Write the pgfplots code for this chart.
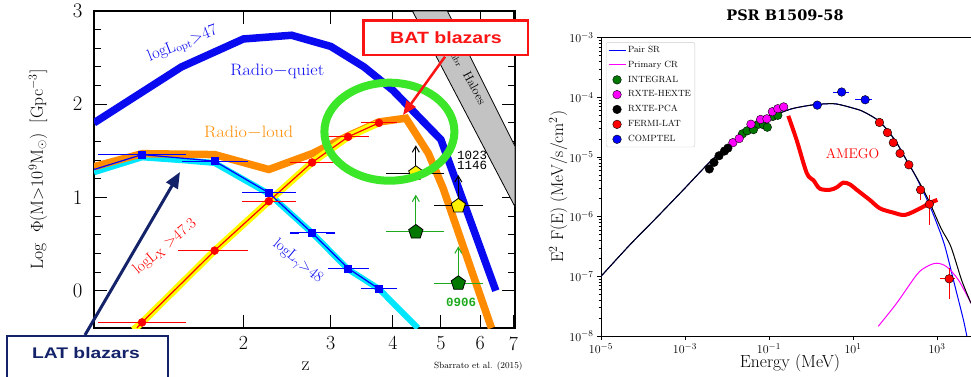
\documentclass[border=0pt]{standalone}
\usepackage{pgfplots}
\pgfplotsset{compat=1.18}
\usepackage{fontspec}
\newfontfamily\boxfont{Liberation Sans}
\newfontfamily\monofont{Liberation Mono}
\newfontfamily\titlefont{DejaVu Serif}
\usetikzlibrary{arrows.meta}
\definecolor{qblue}{RGB}{10,10,240}
\definecolor{rlorange}{RGB}{255,140,0}
\definecolor{gcyan}{RGB}{0,230,255}
\definecolor{xyellow}{RGB}{255,255,0}
\definecolor{dgreen}{RGB}{0,120,0}
\definecolor{lgreen}{RGB}{30,170,30}
\definecolor{ellgreen}{RGB}{60,230,40}
\definecolor{navy}{RGB}{20,35,105}
\definecolor{batred}{RGB}{250,20,20}
\definecolor{bandgray}{RGB}{195,195,195}
\definecolor{mag}{RGB}{255,0,255}
\definecolor{pblue}{RGB}{0,0,255}
\definecolor{pred}{RGB}{255,0,0}
\begin{document}
\begin{tikzpicture}[x=1pt,y=1pt]
\useasboundingbox (0,0) rectangle (971,376);
% ================= LEFT PANEL =================
\begin{axis}[
  at={(94pt,48pt)}, anchor=south west, scale only axis,
  width=421pt, height=317pt,
  xmode=log, xmin=1, xmax=7.05, ymin=-0.4, ymax=3,
  xtick={2,3,4,5,6,7}, xticklabels={2,3,4,5,6,7}, xminorticks=false,
  ytick={0,1,2,3}, minor y tick num=4,
  tick align=inside, major tick length=13pt, minor tick length=7pt,
  tick style={black, line width=1pt},
  axis line style={line width=1.3pt},
  tick label style={font=\fontsize{20}{20}\selectfont},
  xticklabel style={yshift=-5pt},
  yticklabel style={xshift=-8pt},
  xlabel={z},
  xlabel style={font=\fontsize{20}{20}\selectfont, at={(axis description cs:0.503,-0.12)}, anchor=center},
  ylabel={Log\ \ $\Phi$(M$>$10$^9$M$_\odot$)\ \ [Gpc$^{-3}$]},
  ylabel style={font=\fontsize{17.5}{17.5}\selectfont, at={(axis description cs:-0.133,0.5)}, anchor=center},
  clip mode=individual,
]
% haloes band
\addplot[fill=bandgray, draw=black, line width=0.8pt] coordinates {(4.38,3) (5.15,3) (7.05,1.55) (7.05,0.90)} -- cycle;
\node[rotate=-62, font=\fontsize{12.5}{12.5}\selectfont] at (axis cs:5.62,2.33) {M$_{\rm hbr}$\ \ Haloes};
% radio quiet
\addplot[qblue, line width=7.5pt] coordinates {(1.0,1.80) (1.5,2.40) (2.0,2.70) (2.5,2.74) (3.0,2.62) (3.5,2.40) (4.0,2.15) (5.0,1.62) (6.45,0.0)};
% cyan gamma
\addplot[gcyan, line width=6pt] coordinates {(1.0,1.27) (1.25,1.43) (1.5,1.40) (1.75,1.37) (2.25,1.04) (2.75,0.62) (3.25,0.23) (3.75,0.02) (4.49,-0.4)};
% orange radio loud
\addplot[rlorange, line width=7.5pt] coordinates {(1.0,1.33) (1.25,1.47) (1.75,1.46) (2.25,1.30) (2.75,1.47) (3.25,1.66) (3.75,1.81) (4.25,1.85) (4.72,1.47) (5.05,1.10) (6.32,-0.4)};
% yellow X
\addplot[xyellow, line width=7pt] coordinates {(1.2,-0.42) (1.25,-0.34) (1.75,0.43) (2.25,0.96) (2.75,1.375) (3.25,1.65) (3.75,1.80)};
% red thin line
\addplot[red, line width=1.2pt] coordinates {(1.22,-0.4) (1.25,-0.34) (1.75,0.43) (2.25,0.96) (2.75,1.375) (3.25,1.65) (3.75,1.80)};
% blue thin line
\addplot[blue, line width=1.2pt] coordinates {(1.0,1.30) (1.25,1.46) (1.75,1.39) (2.25,1.05) (2.75,0.62) (3.25,0.24) (3.75,0.02)};
% red points with errors
\addplot[red, only marks, mark=*, mark size=4pt, error bars/.cd, x dir=both, x explicit,
  error bar style={line width=1pt}, error mark options={mark size=4.5pt, line width=1.2pt}]
  coordinates {(1.25,-0.34) += (0.25,0) -= (0.21,0)
               (1.75,0.43) += (0.25,0) -= (0.24,0)
               (2.25,0.96) += (0.25,0) -= (0.22,0)
               (2.75,1.375) += (0.25,0) -= (0.22,0)
               (3.25,1.65) += (0.25,0) -= (0.22,0)
               (3.75,1.80) += (0.25,0) -= (0.22,0)};
% blue squares with errors
\addplot[blue, only marks, mark=square*, mark size=3.5pt, error bars/.cd, x dir=both, x explicit,
  error bar style={line width=1pt}, error mark options={mark size=4.5pt, line width=1.2pt}]
  coordinates {(1.25,1.46) += (0.25,0) -= (0.21,0)
               (1.75,1.39) += (0.25,0) -= (0.215,0)
               (2.25,1.05) += (0.25,0) -= (0.22,0)
               (2.75,0.62) += (0.25,0) -= (0.22,0)
               (3.25,0.24) += (0.25,0) -= (0.22,0)
               (3.75,0.02) += (0.25,0) -= (0.22,0)};
% limits arrows
\addplot[lgreen, line width=1pt, -{Straight Barb[length=6pt,width=7pt]}] coordinates {(4.45,0.63) (4.45,1.03)};
\addplot[lgreen, line width=1pt, -{Straight Barb[length=6pt,width=7pt]}] coordinates {(5.42,0.08) (5.42,0.475)};
\addplot[black, line width=1pt, -{Straight Barb[length=6pt,width=7pt]}] coordinates {(4.45,1.26) (4.45,1.56)};
\addplot[black, line width=1pt, -{Straight Barb[length=6pt,width=7pt]}] coordinates {(5.42,0.91) (5.42,1.24)};
% pentagons
\addplot[lgreen, only marks, mark=pentagon*, mark size=7.5pt, mark options={fill=dgreen, draw=black, line width=0.8pt},
  error bars/.cd, x dir=both, x explicit, error bar style={line width=1pt, lgreen}, error mark options={mark size=5pt, line width=1pt, lgreen}]
  coordinates {(4.45,0.63) += (0.51,0) -= (0.48,0) (5.42,0.08) += (0.52,0) -= (0.46,0)};
\addplot[black, only marks, mark=pentagon*, mark size=7.5pt, mark options={fill=yellow, draw=black, line width=0.8pt},
  error bars/.cd, x dir=both, x explicit, error bar style={line width=1pt, black}, error mark options={mark size=5pt, line width=1pt, black}]
  coordinates {(4.45,1.26) += (0.51,0) -= (0.48,0) (5.42,0.91) += (0.52,0) -= (0.46,0)};
% labels
\node[qblue, rotate=21.5, font=\fontsize{16.5}{16.5}\selectfont] at (axis cs:1.51,2.64) {logL$_{\rm opt}$>47};
\node[qblue, font=\fontsize{16.5}{16.5}\selectfont, xscale=1.1] at (axis cs:2.34,2.35) {Radio$-$quiet};
\node[rlorange, font=\fontsize{16.5}{16.5}\selectfont, xscale=1.1] at (axis cs:2.05,1.70) {Radio$-$loud};
\node[red, rotate=40, font=\fontsize{15.5}{15.5}\selectfont] at (axis cs:1.39,0.47) {logL$_{\rm X}$ >47.3};
\node[qblue, rotate=-39.5, font=\fontsize{15.5}{15.5}\selectfont] at (axis cs:2.57,0.31) {logL$_\gamma$>48};
\node[black, font=\monofont\fontsize{12.5}{12.5}\selectfont, align=center] at (axis cs:5.78,1.40) {1023\\[-2pt]1146};
\node[lgreen, font=\monofont\bfseries\fontsize{12.5}{12.5}\selectfont] at (axis cs:5.49,-0.13) {0906};
\end{axis}
% annotations left
\draw[ellgreen, line width=8pt] (389.4,244.3) ellipse [x radius=65, y radius=49];
\draw[batred, line width=2.5pt, -{Triangle[length=14pt,width=11pt]}] (445,319.3) -- (403,261);
\draw[batred, line width=2.5pt, fill=white] (363.4,321) rectangle (528,355.3);
\node[batred, font=\boxfont\bfseries\fontsize{16.3}{16.3}\selectfont, xscale=1.2] at (446,338) {BAT blazars};
\draw[navy, line width=3pt, -{Triangle[length=16pt,width=13pt]}] (85,41) -- (180,204);
\draw[navy, line width=2.5pt, fill=white] (7,40) rectangle (168,-10);
\node[navy, font=\boxfont\bfseries\fontsize{15.4}{15.4}\selectfont, xscale=1.25] at (86,23) {LAT blazars};
\node[font=\fontsize{9}{9}\selectfont] at (478.3,9.3) {Sbarrato et al. (2015)};
% ================= RIGHT PANEL =================
\begin{axis}[
  at={(601pt,40pt)}, anchor=south west, scale only axis,
  width=370pt, height=298.3pt,
  xmode=log, ymode=log,
  xmin=1e-5, xmax=6457, ymin=1e-8, ymax=1e-3,
  xtick={1e-5,1e-3,1e-1,1e1,1e3}, xminorticks=false,
  ytick={1e-8,1e-7,1e-6,1e-5,1e-4,1e-3},
  tick align=outside, tick pos=left,
  major tick length=4pt, minor tick length=2.5pt,
  tick style={black, line width=0.6pt},
  tick label style={font=\fontsize{12.5}{12.5}\selectfont},
  axis line style={line width=0.8pt},
  xlabel={Energy (MeV)},
  xlabel style={font=\fontsize{17.5}{17.5}\selectfont, at={(axis description cs:0.511,-0.0895)}, anchor=center},
  ylabel={E$^2$ F(E) (MeV/s/cm$^2$)},
  ylabel style={font=\fontsize{17}{17}\selectfont, at={(axis description cs:-0.1154,0.5)}, anchor=center},
  legend style={at={(axis description cs:0.0135,0.985)}, anchor=north west, draw=black!20, rounded corners=2pt,
    font=\fontsize{9}{9}\selectfont, inner sep=1.8pt, row sep=3pt},
  legend cell align=left,
]
\addplot[pblue, line width=1pt, smooth] coordinates {
 (1e-5,1.0e-7) (4.9e-5,3.39e-7) (2.14e-4,9.77e-7) (9.12e-4,2.82e-6) (4.37e-3,8.91e-6) (0.02,2.24e-5) (0.1,4.47e-5) (0.316,6.31e-5) (1,7.41e-5) (2.0,7.76e-5) (3.98,7.76e-5) (10,6.61e-5) (17.8,5.75e-5) (43.7,3.89e-5) (100,1.91e-5) (190.5,8.71e-6) (275,5.62e-6) (398,3.39e-6) (676,1.51e-6) (1000,7.59e-7) (1549,3.16e-7) (2692,6.76e-8) (4266,1.86e-8) (5129,1e-8)};
\addlegendentry{Pair SR}
\addplot[mag, line width=1pt, smooth] coordinates {
 (39.8,1.45e-8) (109.6,3.55e-8) (331,1.07e-7) (562,1.45e-7) (977,1.66e-7) (1698,1.45e-7) (3236,8.71e-8) (6457,3.55e-8)};
\addlegendentry{Primary CR}
\addplot[black, line width=1pt, smooth, forget plot] coordinates {
 (1e-5,1.0e-7) (4.9e-5,3.39e-7) (2.14e-4,9.77e-7) (9.12e-4,2.82e-6) (4.37e-3,8.91e-6) (0.02,2.24e-5) (0.1,4.47e-5) (0.316,6.31e-5) (1,7.41e-5) (2.0,7.76e-5) (3.98,7.76e-5) (10,6.61e-5) (17.8,5.75e-5) (43.7,3.89e-5) (100,1.91e-5) (190.5,8.71e-6) (398,3.55e-6) (676,1.70e-6) (1259,6.31e-7) (2138,3.16e-7) (3890,8.5e-8) (6457,3.55e-8)};
\addplot[pred, line width=4pt, smooth, forget plot] coordinates {
 (0.288,4.90e-5) (0.457,1.91e-5) (0.794,5.37e-6) (1.148,4.07e-6) (1.622,2.95e-6) (2.818,2.82e-6) (4.07,3.09e-6) (5.89,3.72e-6) (8.51,3.47e-6) (12.3,2.82e-6) (25.1,1.91e-6) (43.7,1.38e-6) (91.2,1.17e-6) (173.8,1.07e-6) (398,1.38e-6) (676,1.70e-6) (1023,1.91e-6)};
\addplot[only marks, mark=*, mark size=4.3pt, mark options={fill=dgreen, draw=black, line width=0.4pt}] coordinates {
 (0.0234,2.45e-5) (0.0302,2.75e-5) (0.0427,2.88e-5) (0.0562,3.55e-5) (0.0741,3.47e-5) (0.0912,3.16e-5) (0.123,4.79e-5) (0.162,5.01e-5)};
\addlegendentry{INTEGRAL}
\addplot[only marks, mark=*, mark size=4.3pt, mark options={fill=mag, draw=black, line width=0.4pt}] coordinates {
 (0.0138,1.74e-5) (0.0195,2.04e-5) (0.0372,3.55e-5) (0.0631,4.27e-5) (0.0891,4.37e-5) (0.120,5.75e-5) (0.162,6.46e-5) (0.224,6.92e-5)};
\addlegendentry{RXTE-HEXTE}
\addplot[only marks, mark=*, mark size=4.3pt, mark options={fill=black, draw=black, line width=0.4pt}] coordinates {
 (3.80e-3,6.31e-6) (4.90e-3,8.13e-6) (6.46e-3,1.05e-5) (8.71e-3,1.26e-5) (1.05e-2,1.41e-5)};
\addlegendentry{RXTE-PCA}
\addplot[pred, only marks, mark=*, mark size=4.3pt, mark options={fill=pred, draw=black, line width=0.4pt},
  error bars/.cd, x dir=both, y dir=both, x explicit, y explicit, error bar style={pred, line width=1pt}, error mark=none]
  coordinates {
 (42.7,3.80e-5) (66.1,2.57e-5) (91.2,1.74e-5) (131.8,1.15e-5) (213.8,7.41e-6)
 (407,2.82e-6) += (83,0.45e-6) -= (91,0.92e-6)
 (661,1.62e-6) += (80,0.67e-6) -= (70,0.90e-6)
 (1950,9.1e-8) += (740,0.47e-7) -= (800,5.0e-8)};
\addlegendentry{FERMI-LAT}
\addplot[pblue, only marks, mark=*, mark size=4.3pt, mark options={fill=pblue, draw=black, line width=0.4pt},
  error bars/.cd, x dir=both, y dir=both, x explicit, y explicit, error bar style={pblue, line width=1pt}, error mark=none]
  coordinates {
 (1.41,7.41e-5)
 (5.37,1.23e-4) += (2.76,0.15e-4) -= (1.98,0.13e-4)
 (19.5,9.12e-5) += (8.7,0.11e-4) -= (8.3,0.1e-4)};
\addlegendentry{COMPTEL}
\node[pred, font=\fontsize{14}{14}\selectfont] at (axis cs:9.8,1.15e-5) {AMEGO};
\end{axis}
\node[font=\titlefont\bfseries\fontsize{14.5}{14.5}\selectfont] at (785,361) {PSR B1509-58};
\end{tikzpicture}
\end{document}
